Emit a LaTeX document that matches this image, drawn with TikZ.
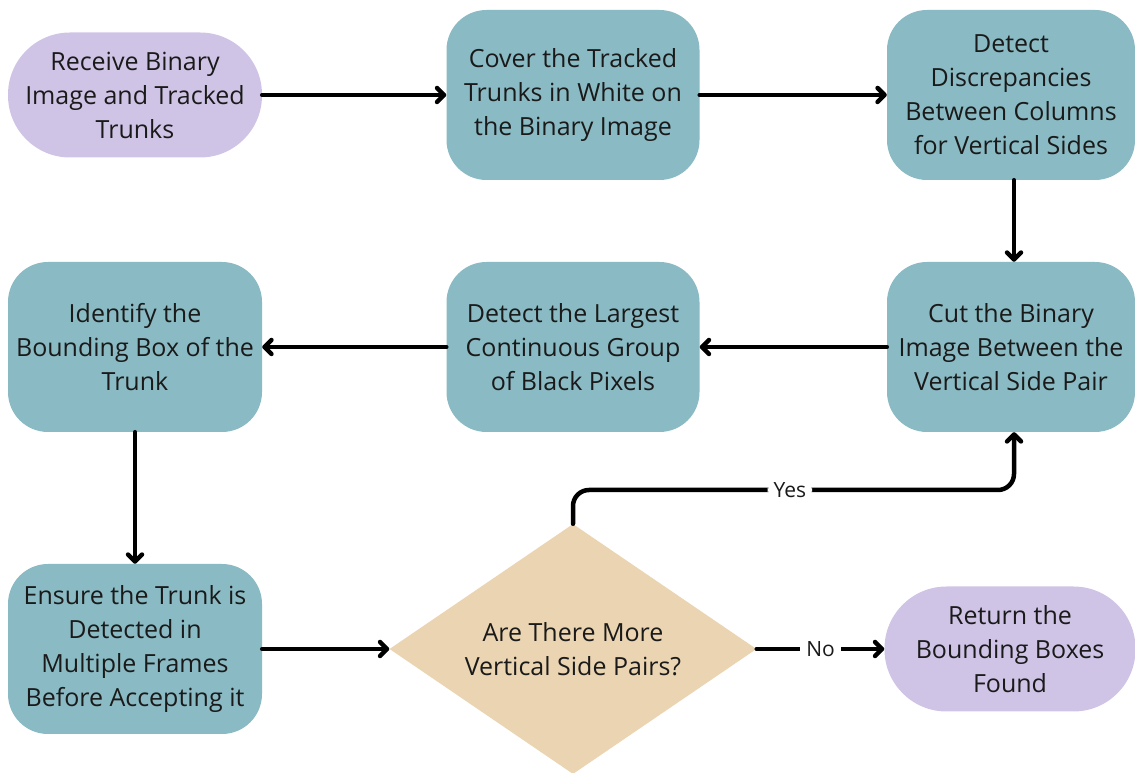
\documentclass[tikz,border=0pt]{standalone}
\usepackage{fontspec}
\setmainfont{Open Sans}
\usetikzlibrary{shapes.geometric,arrows.meta}
\definecolor{tealbox}{HTML}{8ABAC3}
\definecolor{lilac}{HTML}{D0C4E6}
\definecolor{sand}{HTML}{EAD4B1}
\definecolor{ink}{HTML}{1A1A1A}
\tikzset{
  txt/.style={align=center,font=\fontsize{25}{34}\selectfont,text=ink},
  proc/.style={txt,fill=tealbox,rounded corners=40pt,minimum width=253pt,minimum height=170pt,inner sep=0pt},
  term/.style={txt,fill=lilac,rounded corners=62pt,minimum height=125pt,inner sep=0pt},
  decision/.style={txt,diamond,fill=sand,minimum width=367pt,minimum height=250pt,inner sep=0pt,aspect=1.468},
  flow/.style={line width=4.5pt,-{Straight Barb[length=7pt,width=14pt,line cap=round,line join=round]},line cap=round},
  lbl/.style={fill=white,font=\fontsize{21}{22}\selectfont,text=ink,inner sep=6pt}
}
\begin{document}
\begin{tikzpicture}[x=1pt,y=1pt]
\useasboundingbox (0,0) rectangle (1135,773);
% start / end terminals
\node[term,minimum width=254pt] (start) at (135,678) {Receive Binary\\Image and Tracked\\Trunks};
\node[term,minimum width=251pt] (done) at (1010,124) {Return the\\Bounding Boxes\\Found};
% processing steps
\node[proc] (cover) at (573,678) {Cover the Tracked\\Trunks in White on\\the Binary Image};
\node[proc,minimum width=248pt] (disc) at (1011,678) {Detect\\Discrepancies\\Between Columns\\for Vertical Sides};
\node[proc,minimum width=248pt] (cut) at (1011,426) {Cut the Binary\\Image Between the\\Vertical Side Pair};
\node[proc] (largest) at (573,426) {Detect the Largest\\Continuous Group\\of Black Pixels};
\node[proc,minimum width=254pt] (bbox) at (135,426) {Identify the\\Bounding Box of the\\Trunk};
\node[proc,minimum width=254pt] (ensure) at (135,124) {Ensure the Trunk is\\Detected in\\Multiple Frames\\Before Accepting it};
% decision
\node[decision] (more) at (573,124) {Are There More\\Vertical Side Pairs?};
% connectors
\draw[flow] (start) -- (cover);
\draw[flow] (cover) -- (disc);
\draw[flow] (disc.south -| 1014,0) -- (cut.north -| 1014,0);
\draw[flow] (cut) -- (largest);
\draw[flow] (largest) -- (bbox);
\draw[flow] (bbox) -- (ensure);
\draw[flow] (ensure.east) -- (more.west);
\draw[flow] (more.east) -- node[lbl] {No} (done.west);
\coordinate (yesbend) at (1014,283);
\draw[flow,rounded corners=16pt] (more.north) |- node[lbl,pos=0.746] {Yes} (yesbend) -- (cut.south -| yesbend);
\end{tikzpicture}
\end{document}
